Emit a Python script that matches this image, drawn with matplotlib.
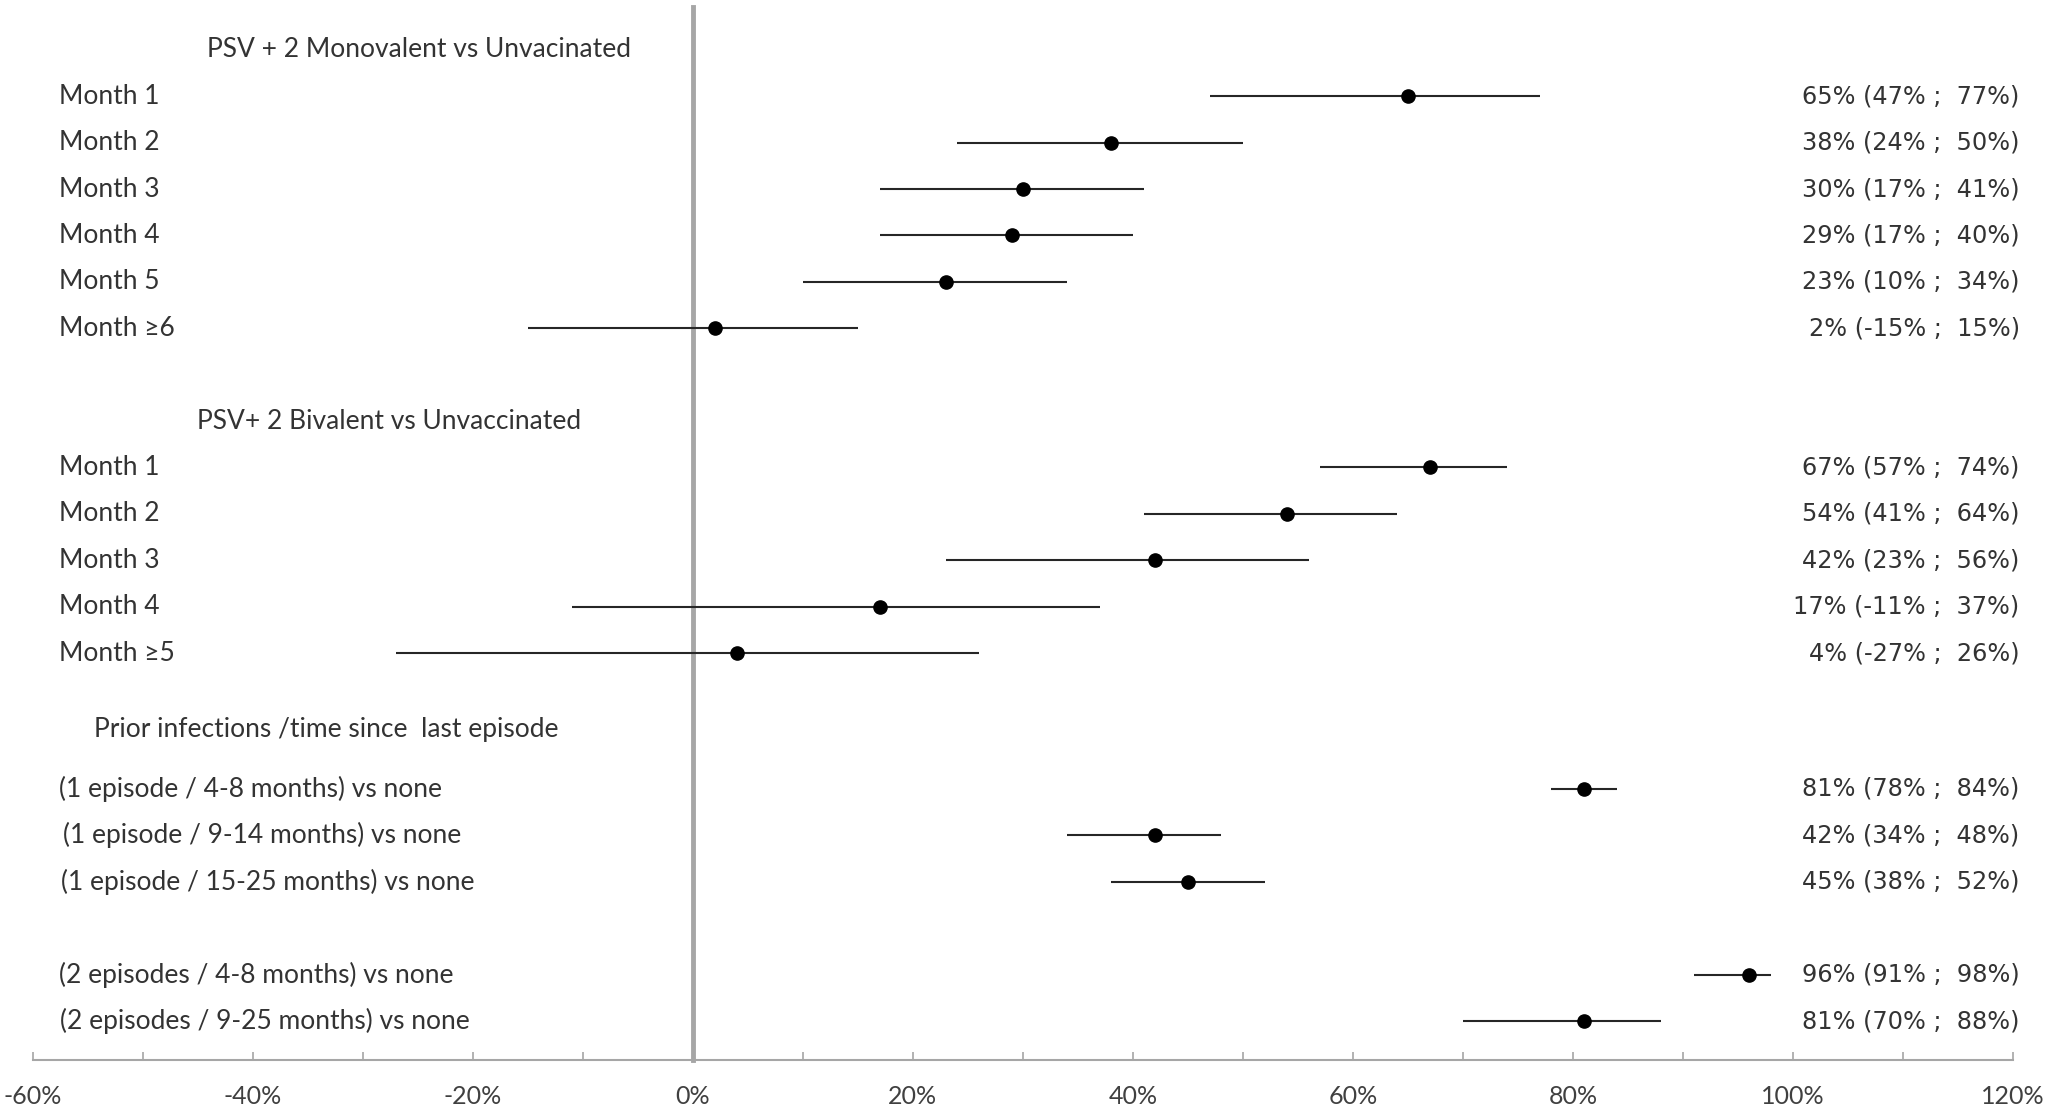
import numpy as np
import matplotlib.pyplot as plt
from matplotlib.ticker import MultipleLocator, FuncFormatter

# Datos: efectividad (punto, IC inferior, IC superior) en %
titulo_mono = "PSV + 2 Monovalent vs Unvacinated"
etiquetas_mono = ["Month 1", "Month 2", "Month 3", "Month 4", "Month 5", "Month \u22656"]
ve_mono = [65, 38, 30, 29, 23, 2]
bajo_mono = [47, 24, 17, 17, 10, -15]
alto_mono = [77, 50, 41, 40, 34, 15]

titulo_bi = "PSV+ 2 Bivalent vs Unvaccinated"
etiquetas_bi = ["Month 1", "Month 2", "Month 3", "Month 4", "Month \u22655"]
ve_bi = [67, 54, 42, 17, 4]
bajo_bi = [57, 41, 23, -11, -27]
alto_bi = [74, 64, 56, 37, 26]

titulo_prev = "Prior infections /time since  last episode"
etiquetas_prev = ["(1 episode / 4-8 months) vs none",
                  "(1 episode / 9-14 months) vs none",
                  "(1 episode / 15-25 months) vs none",
                  "(2 episodes / 4-8 months) vs none",
                  "(2 episodes / 9-25 months) vs none"]
ve_prev = [81, 42, 45, 96, 81]
bajo_prev = [78, 34, 38, 91, 70]
alto_prev = [84, 48, 52, 98, 88]

# posiciones verticales (filas)
y_mono = 1 + np.arange(len(ve_mono))
y_bi = 9 + np.arange(len(ve_bi))
y_prev = 15.93 + np.array([0, 1, 2, 4, 5])
x_izq_prev = [-57.6, -57.3, -57.4, -57.6, -57.5]

gris_txt = "#333333"
fuente_izq = ["Lato", "DejaVu Sans"]

fig = plt.figure(figsize=(20.5, 11.11), dpi=100)
ax = fig.add_axes([0.016, 0.0455, 0.966, 0.9485])

grupos = [
    (titulo_mono, 0.0, -44.2, etiquetas_mono, ve_mono, bajo_mono, alto_mono, y_mono),
    (titulo_bi, 8.0, -45.1, etiquetas_bi, ve_bi, bajo_bi, alto_bi, y_bi),
    (titulo_prev, 14.65, -54.4, etiquetas_prev, ve_prev, bajo_prev, alto_prev, y_prev),
]

for k, (titulo, y_tit, x_tit, etiquetas, ve, bajo, alto, ys) in enumerate(grupos):
    ax.text(x_tit, y_tit, titulo, ha="left", va="center", fontsize=19,
            color=gris_txt, family=fuente_izq)
    ve = np.array(ve)
    err = [ve - np.array(bajo), np.array(alto) - ve]
    ax.errorbar(ve, ys, xerr=err, fmt="o", color="black", ecolor="#262626",
                elinewidth=1.5, capsize=0, markersize=9.5, zorder=3)
    for i in range(len(ve)):
        x_lab = x_izq_prev[i] if k == 2 else -57.6
        ax.text(x_lab, ys[i], etiquetas[i], ha="left", va="center", fontsize=19,
                color=gris_txt, family=fuente_izq)
        txt = "%d%% (%d%% ;  %d%%)" % (ve[i], bajo[i], alto[i])
        ax.text(120.6, ys[i], txt, ha="right", va="center", fontsize=17.3,
                color=gris_txt, family="DejaVu Sans")

ax.set_xlim(-60, 120)
ax.set_ylim(21.78, -0.93)

for s in ["top", "right"]:
    ax.spines[s].set_visible(False)
ax.spines["left"].set_position(("data", 0))
ax.spines["left"].set_color("#A6A6A6")
ax.spines["left"].set_linewidth(3.5)
ax.spines["bottom"].set_color("#A6A6A6")
ax.spines["bottom"].set_linewidth(1.5)
ax.set_yticks([])

ax.xaxis.set_major_locator(MultipleLocator(20))
ax.xaxis.set_minor_locator(MultipleLocator(10))
ax.xaxis.set_major_formatter(FuncFormatter(lambda v, p: "%d%%" % v))
ax.tick_params(axis="x", which="both", direction="in", length=6, width=1.2,
               color="#A6A6A6", labelsize=18, labelcolor="#404040", pad=18)
for lab in ax.get_xticklabels():
    lab.set_family(fuente_izq)

fig.savefig("out.png", dpi=100)
